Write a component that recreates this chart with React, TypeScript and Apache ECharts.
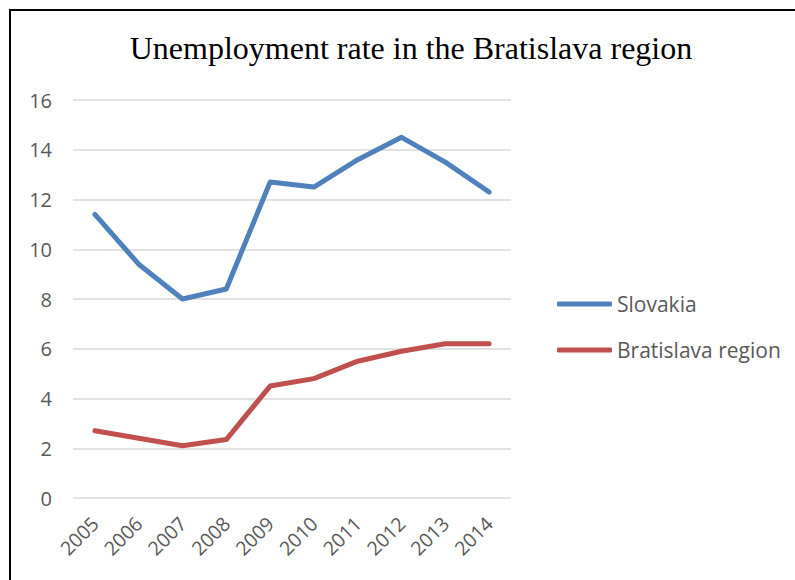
import React, { useEffect, useRef } from "react";
import * as echarts from "echarts";

const years = ["2005", "2006", "2007", "2008", "2009", "2010", "2011", "2012", "2013", "2014"];
const slovakia = [11.4, 9.4, 8.0, 8.4, 12.7, 12.5, 13.6, 14.5, 13.5, 12.3];
const bratislava = [2.7, 2.4, 2.1, 2.35, 4.5, 4.8, 5.5, 5.9, 6.2, 6.2];

export default function App() {
  const ref = useRef<HTMLDivElement>(null);
  useEffect(() => {
    document.body.style.margin = "0";
    const chart = echarts.init(ref.current!, null, { renderer: "svg" });
    const labelFont = "Open Sans";
    chart.setOption({
      animation: false,
      backgroundColor: "#ffffff",
      title: {
        text: "Unemployment rate in the Bratislava region",
        left: 406,
        top: 27,
        textAlign: "center",
        textStyle: {
          fontFamily: "Liberation Serif",
          fontSize: 32,
          fontWeight: "normal",
          color: "#000000",
        },
      },
      legend: {
        orient: "vertical",
        left: 557,
        top: 293,
        padding: 0,
        itemWidth: 55,
        itemHeight: 5,
        itemGap: 24,
        icon: "roundRect",
        textStyle: { fontFamily: labelFont, fontSize: 21, color: "#595959", lineHeight: 22 },
        data: ["Slovakia", "Bratislava region"],
      },
      grid: { left: 73, right: 284, top: 100, bottom: 82 },
      xAxis: {
        type: "category",
        data: years,
        boundaryGap: true,
        axisLine: { show: false },
        axisTick: { show: false },
        axisLabel: {
          rotate: 45,
          margin: 22,
          fontFamily: labelFont,
          fontSize: 19.5,
          color: "#595959",
          interval: 0,
        },
      },
      yAxis: {
        type: "value",
        min: 0,
        max: 16,
        interval: 2,
        axisLine: { show: false },
        axisTick: { show: false },
        axisLabel: { margin: 21, fontFamily: labelFont, fontSize: 20, color: "#595959" },
        splitLine: { lineStyle: { color: "#d9d9d9", width: 1.5 } },
      },
      graphic: [
        {
          type: "line",
          shape: { x1: 10, y1: 10, x2: 795, y2: 10 },
          style: { stroke: "#000000", lineWidth: 2 },
          silent: true,
        },
        {
          type: "line",
          shape: { x1: 10, y1: 9, x2: 10, y2: 580 },
          style: { stroke: "#000000", lineWidth: 2 },
          silent: true,
        },
      ],
      series: [
        {
          name: "Slovakia",
          type: "line",
          data: slovakia,
          symbol: "none",
          lineStyle: { color: "#4F81BD", width: 5, cap: "round", join: "round" },
          itemStyle: { color: "#4F81BD" },
        },
        {
          name: "Bratislava region",
          type: "line",
          data: bratislava,
          symbol: "none",
          lineStyle: { color: "#C0504D", width: 5, cap: "round", join: "round" },
          itemStyle: { color: "#C0504D" },
        },
      ],
    });
    return () => chart.dispose();
  }, []);
  return <div ref={ref} style={{ width: 795, height: 580 }} />;
}
